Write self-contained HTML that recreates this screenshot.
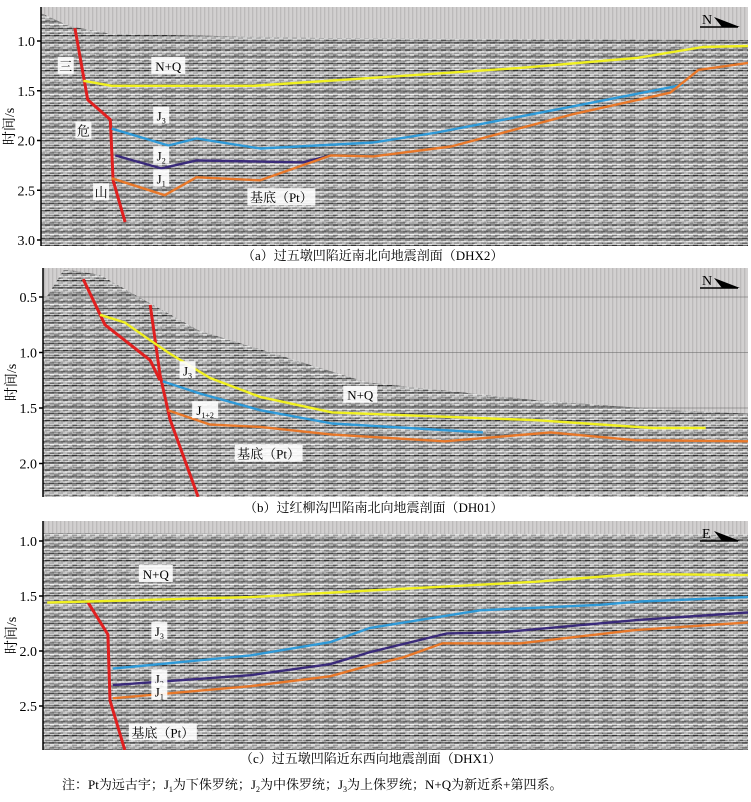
<!DOCTYPE html>
<html><head><meta charset="utf-8">
<style>
body{margin:0;background:#fff;width:751px;height:802px;overflow:hidden;font-family:"Liberation Serif","Noto Serif CJK SC",serif;}
svg{position:absolute;left:0;top:0;}
</style></head>
<body>
<svg id="fig" width="751" height="802" viewBox="0 0 751 802">
<defs>
<pattern id="seis" width="23" height="7" patternUnits="userSpaceOnUse">
<rect width="23" height="7" fill="#b4b4b4"/>
<rect y="0" width="23" height="1.4" fill="#2e2e2e"/>
<rect y="2.4" width="23" height="1.8" fill="#f2f2f2"/>
<rect x="4" y="4.8" width="11" height="0.9" fill="#555"/>
<rect x="14" y="5.6" width="9" height="1.2" fill="#e8e8e8"/>
</pattern>
<pattern id="seis2" width="9" height="5" patternUnits="userSpaceOnUse">
<rect width="9" height="5" fill="#b0b0b0"/>
<rect x="0" y="0" width="5" height="1.2" fill="#333"/>
<rect x="4" y="2.5" width="5" height="1.2" fill="#3a3a3a"/>
<rect x="2" y="1.3" width="5" height="1.1" fill="#f4f4f4"/>
<rect x="5" y="4" width="4" height="1" fill="#f4f4f4"/>
</pattern>
<pattern id="sky" width="4" height="10" patternUnits="userSpaceOnUse">
<rect width="4" height="10" fill="#d2d0d0"/>
<rect width="1.3" height="10" fill="#bcbaba"/>
</pattern>
</defs>
</svg>
<script>
// ---------- Panel (a) DHX2 ----------
const aYellowD=[6,10,30,47,67.8,84.3,93.6,100];
const aYellowT=[1.40,1.45,1.45,1.37,1.27,1.17,1.06,1.05];
const aBlueD=[10,18,22,31,47,56,75,90.8];
const aBlueT=[1.88,2.05,1.98,2.08,2.02,1.92,1.66,1.44];
const aPurpleD=[10.5,17,22,37,41];
const aPurpleT=[2.15,2.28,2.20,2.22,2.15];
const aOrangeD=[10,17.5,22,31,41,47,58,75,89,93,100];
const aOrangeT=[2.38,2.55,2.37,2.40,2.15,2.16,2.06,1.74,1.52,1.29,1.22];
const aFaultD=[4.8,6.6,9.8,10.2,11.9];
const aFaultT=[0.87,1.59,1.79,2.40,2.82];
const aSeaD=[0,4,10,40,100];
const aSeaT=[0.72,0.85,0.93,0.97,0.99];
const aTicks=["1.0","1.5","2.0","2.5","3.0"];
// ---------- Panel (b) DH01 ----------
const bYellowD=[8.1,11.6,15.2,18,23.7,30.8,41,70,86.5,94];
const bYellowT=[0.66,0.73,0.89,1.01,1.23,1.40,1.54,1.61,1.68,1.68];
const bBlueD=[17,22.3,30.8,41,62.4];
const bBlueT=[1.26,1.37,1.52,1.64,1.72];
const bOrangeD=[17.7,23.7,30.8,41,57,72,84,100];
const bOrangeT=[1.52,1.65,1.67,1.74,1.80,1.72,1.79,1.80];
const bFault1D=[5.7,8.8,15.2,16.6];
const bFault1T=[0.34,0.75,1.07,1.25];
const bFault2D=[15.2,16.6,18,22];
const bFault2T=[0.57,1.20,1.60,2.30];
const bSeaD=[0,3,8,22,46,70,89,100];
const bSeaT=[0.55,0.25,0.30,0.80,1.27,1.43,1.52,1.55];
const bTicks=["0.5","1.0","1.5","2.0"];
// ---------- Panel (c) DHX1 ----------
const cYellowD=[0.6,6.4,29.4,46.4,70,84,100];
const cYellowT=[1.56,1.55,1.51,1.45,1.37,1.30,1.31];
const cBlueD=[9.9,29.4,40.7,46.4,62,79,84.7,100];
const cBlueT=[2.16,2.04,1.92,1.79,1.63,1.58,1.55,1.51];
const cPurpleD=[9.9,29.4,40.7,46.4,57.3,65,84,100];
const cPurpleT=[2.31,2.22,2.12,2.01,1.84,1.83,1.72,1.65];
const cOrangeD=[9.9,29.4,40.7,46.4,51,56.7,67.7,84,100];
const cOrangeT=[2.43,2.32,2.23,2.13,2.06,1.93,1.93,1.81,1.74];
const cFaultD=[6.4,9.2,9.5,11.6];
const cFaultT=[1.56,1.85,2.45,2.90];
const cSeaD=[0,100];
const cSeaT=[0.93,0.94];
const cTicks=["1.0","1.5","2.0","2.5"];

const NS='http://www.w3.org/2000/svg';
const svg=document.getElementById('fig');
function mk(tag,attrs,parent){const e=document.createElementNS(NS,tag);for(const k in attrs)e.setAttribute(k,attrs[k]);(parent||svg).appendChild(e);return e;}

function panel(cfg){
  const g=mk('g',{});
  
  
  const L=cfg.left,R=748,T=cfg.top,B=cfg.bottom;
  const xs=d=>L+(R-L)*d/100;
  const ys=t=>cfg.y0+(t-cfg.t0)*cfg.k;
  const clipId='clip'+cfg.id;
  const cp=mk('clipPath',{id:clipId},g);mk('rect',{x:L,y:T,width:R-L,height:B-T},cp);
  const inner=mk('g',{'clip-path':'url(#'+clipId+')'},g);
  const sky=mk('rect',{x:L,y:T,width:R-L,height:B-T,fill:'url(#sky)'},inner);
  
  
  let p='M'+L+','+B;
  cfg.seaD.forEach((d,i)=>{p+=' L'+xs(d).toFixed(1)+','+ys(cfg.seaT[i]).toFixed(1);});
  p+=' L'+R+','+B+' Z';
  const tex=mk('path',{d:p,fill:'url(#seis)'},inner);
  
  
  const tex2=mk('path',{d:p,fill:'url(#seis2)',opacity:0.45},inner);
  
  
  cfg.ticks.forEach(tk=>{const y=ys(parseFloat(tk));mk('line',{x1:L,x2:R,y1:y,y2:y,stroke:'#555',"stroke-width":0.7,opacity:0.6},inner);});
  cfg.lines.forEach(ln=>{
    const pts=ln.d.map((d,i)=>xs(d).toFixed(1)+','+ys(ln.t[i]).toFixed(1)).join(' ');
    const pl=mk('polyline',{points:pts,fill:'none',stroke:ln.c,'stroke-width':ln.w||2.4,'stroke-linejoin':'round'},inner);
    
    
  });
  mk('line',{x1:L,x2:L,y1:T,y2:B,stroke:'#000','stroke-width':1.5},g);
  cfg.ticks.forEach(tk=>{
    const y=ys(parseFloat(tk));
    mk('line',{x1:L-4,x2:L,y1:y,y2:y,stroke:'#000','stroke-width':1.5},g);
    const t=mk('text',{x:L-6,y:y+5,'text-anchor':'end','font-size':14,fill:'#000','font-family':'Liberation Serif, serif'},g);
    t.textContent=tk;
    
    
  });
  const yt=mk('text',{x:0,y:0,transform:'translate('+(L-27)+','+((T+B)/2)+') rotate(-90)','text-anchor':'middle','font-size':14,fill:'#000'},g);
  yt.textContent='时间/s';
  
  
  cfg.labels.forEach(lb=>{
    const x=xs(lb.d),y=ys(lb.t);
    const w=lb.w||16;
    mk('rect',{x:x-w/2,y:y-9,width:w,height:17,fill:'#fff',opacity:0.9},g);
    const t=mk('text',{x:x,y:y+5,'text-anchor':'middle','font-size':lb.fs||13,fill:'#000'},g);
    t.innerHTML=lb.html;
    
    
  });
  const na=mk('g',{},g);
  
  
  const nt=mk('text',{x:702,y:T+17,'font-size':14,fill:'#000'},na);nt.textContent=cfg.dir;
  mk('line',{x1:700,y1:T+20,x2:738,y2:T+20,stroke:'#000','stroke-width':1.5},na);
  mk('polygon',{points:'714,'+(T+10)+' 740,'+(T+20)+' 722,'+(T+20),fill:'#000'},na);
  const cap=mk('text',{x:cfg.capX,y:cfg.capY,'font-size':13,fill:'#000'},g);
  cap.textContent=cfg.cap;
  
  
}

panel({id:'a',name:'panel-a-dhx2',left:41,top:7,bottom:246,y0:41,t0:1.0,k:99.5,
 seaD:aSeaD,seaT:aSeaT,ticks:aTicks,dir:'N',
 lines:[{d:aFaultD,t:aFaultT,c:'#e02020',w:3,n:'fault-a'},
        {d:aYellowD,t:aYellowT,c:'#f0f020',n:'horizon-nq-base-a'},
        {d:aBlueD,t:aBlueT,c:'#2f9ad8',n:'horizon-j3-base-a'},
        {d:aPurpleD,t:aPurpleT,c:'#3a2a7a',n:'horizon-j2-base-a'},
        {d:aOrangeD,t:aOrangeT,c:'#e8782a',n:'horizon-basement-a'}],
 labels:[{d:18,t:1.25,html:'N+Q',w:34,n:'label-nq'},
   {d:3.5,t:1.25,html:'三',n:'label-san'},{d:6,t:1.90,html:'危',n:'label-wei'},{d:8.5,t:2.52,html:'山',n:'label-shan'},
   {d:17,t:1.75,html:'J<tspan font-size="8" dy="3">3</tspan>',n:'label-j3'},
   {d:17,t:2.15,html:'J<tspan font-size="8" dy="3">2</tspan>',n:'label-j2'},
   {d:17,t:2.38,html:'J<tspan font-size="8" dy="3">1</tspan>',n:'label-j1'},
   {d:34,t:2.57,html:'基底（Pt）',w:68,n:'label-basement'}],
 capX:242,capY:260,cap:'（a）过五墩凹陷近南北向地震剖面（DHX2）'});

panel({id:'b',name:'panel-b-dh01',left:43,top:268,bottom:497,y0:297,t0:0.5,k:111,
 seaD:bSeaD,seaT:bSeaT,ticks:bTicks,dir:'N',
 lines:[{d:bFault1D,t:bFault1T,c:'#e02020',w:3,n:'fault-b-1'},
        {d:bFault2D,t:bFault2T,c:'#e02020',w:3,n:'fault-b-2'},
        {d:bYellowD,t:bYellowT,c:'#f0f020',n:'horizon-nq-base-b'},
        {d:bBlueD,t:bBlueT,c:'#2f9ad8',n:'horizon-j3-base-b'},
        {d:bOrangeD,t:bOrangeT,c:'#e8782a',n:'horizon-basement-b'}],
 labels:[{d:45,t:1.38,html:'N+Q',w:34,n:'label-nq'},
   {d:20.5,t:1.16,html:'J<tspan font-size="8" dy="3">3</tspan>',n:'label-j3'},
   {d:23,t:1.52,html:'J<tspan font-size="8" dy="3">1+2</tspan>',w:26,n:'label-j12'},
   {d:32,t:1.91,html:'基底（Pt）',w:68,n:'label-basement'}],
 capX:244,capY:512,cap:'（b）过红柳沟凹陷南北向地震剖面（DH01）'});

panel({id:'c',name:'panel-c-dhx1',left:43,top:521,bottom:750,y0:541,t0:1.0,k:110,
 seaD:cSeaD,seaT:cSeaT,ticks:cTicks,dir:'E',
 lines:[{d:cFaultD,t:cFaultT,c:'#e02020',w:3,n:'fault-c'},
        {d:cYellowD,t:cYellowT,c:'#f0f020',n:'horizon-nq-base-c'},
        {d:cBlueD,t:cBlueT,c:'#2f9ad8',n:'horizon-j3-base-c'},
        {d:cPurpleD,t:cPurpleT,c:'#3a2a7a',n:'horizon-j2-base-c'},
        {d:cOrangeD,t:cOrangeT,c:'#e8782a',n:'horizon-basement-c'}],
 labels:[{d:16,t:1.30,html:'N+Q',w:34,n:'label-nq'},
   {d:16.5,t:1.82,html:'J<tspan font-size="8" dy="3">3</tspan>',n:'label-j3'},
   {d:16.5,t:2.25,html:'J<tspan font-size="8" dy="3">2</tspan>',n:'label-j2'},
   {d:16.5,t:2.37,html:'J<tspan font-size="8" dy="3">1</tspan>',n:'label-j1'},
   {d:17,t:2.74,html:'基底（Pt）',w:68,n:'label-basement'}],
 capX:240,capY:763,cap:'（c）过五墩凹陷近东西向地震剖面（DHX1）'});

const note=mk('text',{x:62,y:789,'font-size':13,fill:'#000'});
note.innerHTML='注：Pt为远古宇；J<tspan font-size="8" dy="3">1</tspan><tspan dy="-3">为下侏罗统；J</tspan><tspan font-size="8" dy="3">2</tspan><tspan dy="-3">为中侏罗统；J</tspan><tspan font-size="8" dy="3">3</tspan><tspan dy="-3">为上侏罗统；N+Q为新近系+第四系。</tspan>';


</script>
</body></html>
